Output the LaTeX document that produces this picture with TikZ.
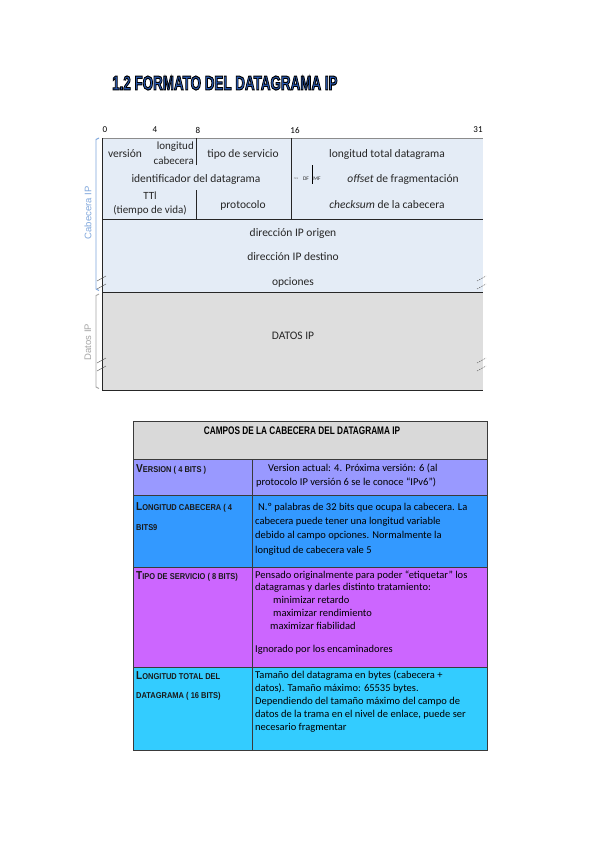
\documentclass[tikz,border=0pt]{standalone}
\usepackage{fontspec}
\usepackage{graphicx}
\setmainfont{Carlito}
\newfontfamily\arialf{Liberation Sans}
\definecolor{hdrblue}{HTML}{E4ECF6}
\definecolor{datgray}{HTML}{DEDEDE}
\definecolor{tblhead}{HTML}{D9D9D9}
\definecolor{cver}{HTML}{9999FF}
\definecolor{clong}{HTML}{3399FF}
\definecolor{ctipo}{HTML}{CC66FF}
\definecolor{ctotal}{HTML}{33CCFF}
\definecolor{brblue}{HTML}{7EA6DC}
\definecolor{brgray}{HTML}{A6A6A6}
\definecolor{titleblue}{HTML}{2A5CB8}
\definecolor{tline}{HTML}{3A3A3A}
\newcommand\hsc[2]{\scalebox{0.88}[1]{\arialf\bfseries{\fontsize{11.5}{13}\selectfont #1}{\fontsize{8.5}{10}\selectfont #2}}}
\newcommand\hscc[1]{\scalebox{0.88}[1]{\arialf\bfseries\fontsize{8.5}{10}\selectfont #1}}
\begin{document}
\begin{tikzpicture}[x=1pt,y=-1pt,
  lbl/.style={inner sep=0pt,font=\fontsize{11.5}{13}\selectfont,text=black!85},
  bitnum/.style={inner sep=0pt,font=\fontsize{9}{10}\selectfont},
  cell/.style={inner sep=0pt,anchor=north west,align=left,text=black},
  lefttxt/.style={inner sep=0pt,anchor=base west,text=black!90},
  gridline/.style={line width=0.9pt,black!85},
  brk/.style={line width=0.5pt,black!60},
  tbl/.style={line width=0.8pt,tline}]
\useasboundingbox[fill=white] (0,0) rectangle (599,848);

% ---------- Title ----------
\node[anchor=west,inner sep=0pt,text=titleblue] (title) at (112,83)
  {\special{pdf:literal direct 2 Tr 1.1 w 0 0 0 RG}\scalebox{0.67}[1]{\arialf\bfseries\fontsize{20}{22}\selectfont 1.2 FORMATO DEL DATAGRAMA IP}\special{pdf:literal direct 0 Tr}};

% ---------- IP datagram diagram ----------
\fill[hdrblue] (102,138) rectangle (483,292);
\fill[datgray] (102,292) rectangle (483,390);
\draw[line width=0.4pt,black!45] (102,138) -- (483,138);
\draw[gridline] (102,138) -- (102,390);
\draw[gridline] (102,219) -- (483,219);
\draw[gridline] (102,292) -- (483,292);
\draw[gridline] (102,390) -- (483,390);
\draw[gridline] (196,138) -- (196,165);
\draw[gridline] (196,190) -- (196,219);
\draw[gridline] (291,138) -- (291,219);
\draw[line width=0.6pt,black] (312,165) -- (312,184);

% bit numbers
\node[bitnum] (b0) at (105,130) {0};
\node[bitnum] (b4) at (155,130) {4};
\node[bitnum] (b8) at (198,130) {8};
\node[bitnum] (b16) at (295,130) {16};
\node[bitnum] (b31) at (478,130) {31};

% fields
\node[lbl] (ver) at (125,154) {versión};
\node[lbl,anchor=east,align=right,font=\fontsize{11}{15}\selectfont] (lcab) at (194,153) {longitud\\cabecera};
\node[lbl] (tos) at (243,154) {tipo de servicio};
\node[lbl] (ltot) at (387,154) {longitud total datagrama};
\node[lbl] (ident) at (196,179) {identificador del datagrama};
\node[lbl,font=\fontsize{3.5}{4}\selectfont,text=black!50] (res) at (296,179) {res};
\node[lbl,font=\fontsize{5.5}{6}\selectfont] (df) at (306,179) {DF};
\node[lbl,font=\fontsize{5.5}{6}\selectfont] (mf) at (317,179) {MF};
\node[lbl] (off) at (403,179) {\textit{offset} de fragmentación};
\node[lbl,align=center,font=\fontsize{11}{14}\selectfont] (ttl) at (150,204) {TTl\\(tiempo de vida)};
\node[lbl] (prot) at (243,205) {protocolo};
\node[lbl] (chk) at (387,205) {\textit{checksum} de la cabecera};
\node[lbl] (src) at (293,233) {dirección IP origen};
\node[lbl] (dst) at (293,257) {dirección IP destino};
\node[lbl] (opt) at (293,282) {opciones};
\node[lbl] (data) at (293,336) {DATOS IP};

% break marks
\draw[brk] (97,281) -- (106,276);
\draw[brk] (97,289) -- (106,284);
\draw[brk] (97,363) -- (106,358);
\draw[brk] (97,371) -- (106,366);
\draw[brk,dash pattern=on 1.5pt off 1pt] (477,281) -- (486,276);
\draw[brk,dash pattern=on 1.5pt off 1pt] (477,289) -- (486,284);
\draw[brk,dash pattern=on 1.5pt off 1pt] (477,363) -- (486,358);
\draw[brk,dash pattern=on 1.5pt off 1pt] (477,371) -- (486,366);

% side brackets
\draw[brblue,line width=0.9pt] (99,138) -- (96,139.5) -- (96,289) -- (99,290.5);
\draw[brgray,line width=0.9pt] (99,294) -- (96,295.5) -- (96,387) -- (99,388.5);
\node[inner sep=0pt,rotate=90,text=brblue,font=\arialf\fontsize{9.5}{11}\selectfont] (cablbl) at (88,213) {Cabecera IP};
\node[inner sep=0pt,rotate=90,text=brgray,font=\arialf\fontsize{9.5}{11}\selectfont] (datlbl) at (88,342) {Datos IP};

% ---------- Table ----------
\fill[tblhead] (133,421) rectangle (487,459);
\fill[cver] (133,459) rectangle (487,495);
\fill[clong] (133,495) rectangle (487,567);
\fill[ctipo] (133,567) rectangle (487,667);
\fill[ctotal] (133,667) rectangle (487,750);
\draw[tbl] (133,421) rectangle (487,750);
\draw[tbl] (133,459) -- (487,459);
\draw[tbl] (133,495) -- (487,495);
\draw[tbl] (133,567) -- (487,567);
\draw[tbl] (133,667) -- (487,667);
\draw[tbl] (252,459) -- (252,750);

\node[inner sep=0pt,text=black] (thead) at (302,431) {\scalebox{0.75}[1]{\arialf\bfseries\fontsize{11}{12}\selectfont CAMPOS DE LA CABECERA DEL DATAGRAMA IP}};

\node[lefttxt] (k1) at (136,472) {\hsc{V}{ERSION ( 4 BITS )}};
\node[lefttxt] (k2a) at (136,510) {\hsc{L}{ONGITUD CABECERA ( 4}};
\node[lefttxt] (k2b) at (136,530) {\hscc{BITS9}};
\node[lefttxt] (k3) at (136,579) {\hsc{T}{IPO DE SERVICIO ( 8 BITS)}};
\node[lefttxt] (k4a) at (136,679) {\hsc{L}{ONGITUD TOTAL DEL}};
\node[lefttxt] (k4b) at (136,698) {\hscc{DATAGRAMA ( 16 BITS)}};

\node[cell,font=\fontsize{10.5}{14}\selectfont] (v1) at (256,461)
 {\rule{0pt}{10pt}\hspace{12pt}Version actual: 4. Próxima versión: 6 (al\\protocolo IP versión 6 se le conoce “IPv6”)};
\node[cell,font=\fontsize{10.5}{14.3}\selectfont] (v2) at (255,500)
 {\rule{0pt}{10pt}\hspace{3pt}N.º palabras de 32 bits que ocupa la cabecera. La\\cabecera puede tener una longitud variable\\debido al campo opciones. Normalmente la\\longitud de cabecera vale 5};
\node[cell,font=\fontsize{10.5}{12.7}\selectfont] (v3) at (255,568)
 {\rule{0pt}{10pt}Pensado originalmente para poder “etiquetar” los\\datagramas y darles distinto tratamiento:\\\hspace{18pt}minimizar retardo\\\hspace{18pt}maximizar rendimiento\\\hspace{15pt}maximizar fiabilidad\\[11pt]Ignorado por los encaminadores};
\node[cell,font=\fontsize{10.5}{13}\selectfont] (v4) at (255,668)
 {\rule{0pt}{10pt}Tamaño del datagrama en bytes (cabecera +\\datos). Tamaño máximo: 65535 bytes.\\Dependiendo del tamaño máximo del campo de\\datos de la trama en el nivel de enlace, puede ser\\necesario fragmentar};
\end{tikzpicture}
\end{document}
